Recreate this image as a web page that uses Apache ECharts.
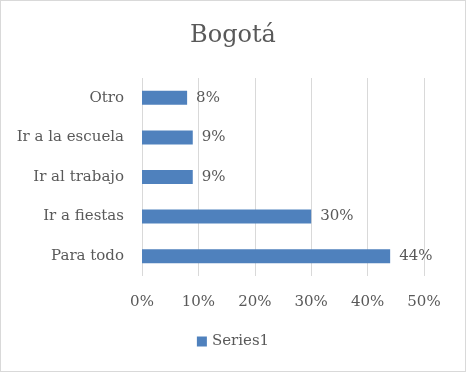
<!DOCTYPE html>
<html><head><meta charset="utf-8">
<script src="https://cdn.jsdelivr.net/npm/echarts@6/dist/echarts.min.js"></script>
<style>html,body{margin:0;padding:0;background:#fff}#c{width:466px;height:372px;box-sizing:border-box;border:1px solid #d9d9d9}</style>
</head><body><div id="c"></div>
<script>
const categories = ["Para todo", "Ir a fiestas", "Ir al trabajo", "Ir a la escuela", "Otro"];
const values = [44, 30, 9, 9, 8];
const xTicks = [0, 10, 20, 30, 40, 50];
const seriesName = "Series1";
const FONT = "DejaVu Serif";
const chart = echarts.init(document.getElementById('c'), null, {renderer: 'canvas'});
chart.setOption({
  animation: false,
  title: {text: "Bogotá", left: 'center', top: 18, textStyle: {fontFamily: FONT, fontSize: 24, fontWeight: 'normal', color: '#595959'}},
  legend: {data: [seriesName], bottom: 17, left: 'center', itemWidth: 10, itemHeight: 10, icon: 'rect', itemGap: 5,
    textStyle: {fontFamily: FONT, fontSize: 15, color: '#595959'}},
  grid: {left: 141, right: 41, top: 77, bottom: 95, containLabel: false},
  xAxis: {type: 'value', min: xTicks[0], max: xTicks[xTicks.length-1], interval: 10,
    axisLine: {show: false}, axisTick: {show: false},
    splitLine: {lineStyle: {color: '#d9d9d9', width: 1}},
    axisLabel: {formatter: v => v + '%', fontFamily: FONT, fontSize: 15, color: '#595959', margin: 19}},
  yAxis: {type: 'category', data: categories, axisLine: {show: false}, axisTick: {show: false},
    axisLabel: {fontFamily: FONT, fontSize: 15, color: '#595959', margin: 18}},
  series: [{name: seriesName, type: 'bar', data: values, barWidth: 14, itemStyle: {color: '#4f81bd'},
    label: {show: true, position: 'right', distance: 9, formatter: p => p.value + '%', fontFamily: FONT, fontSize: 15, color: '#595959'}}]
});
</script></body></html>
